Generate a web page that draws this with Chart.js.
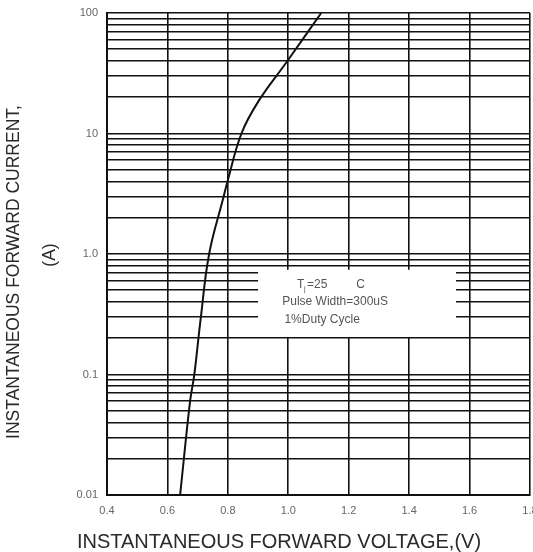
<!DOCTYPE html>
<html>
<head>
<meta charset="utf-8">
<script src="https://cdn.jsdelivr.net/npm/chart.js@4"></script>
<style>
    html, body { margin: 0; padding: 0; background: #fff; }
    #graphique { display: block; }
</style>
</head>
<body>
<canvas id="graphique" width="533" height="552"></canvas>
<script>
// Courbe : tension directe (V) et courant (A)
const tensions = [0.642, 0.675, 0.689, 0.71, 0.738, 0.783, 0.80, 0.845, 0.90, 0.994, 1.109]
const courants = [0.01, 0.06, 0.1, 0.29, 1.0, 2.8, 4.1, 10, 18.3, 39, 100]

const xTicks = [0.4, 0.6, 0.8, 1.0, 1.2, 1.4, 1.6, 1.8]
const xTickLabels = ["0.4", "0.6", "0.8", "1.0", "1.2", "1.4", "1.6", "1.8"]
const decades = [0.01, 0.1, 1, 10, 100]
const yTickLabels = ["0.01", "0.1", "1.0", "10", "100"]

const legendeLignes = ["Pulse Width=300uS", "1%Duty Cycle"]

const points = tensions.map((v, i) => ({ x: v, y: courants[i] }))

// cadre blanc de la légende, en valeurs d'axes
const legendeCadre = { x1: 0.9, x2: 1.555, y1: 0.74, y2: 0.205 }

const police = "'Liberation Sans', Arial, sans-serif"

const legendePlugin = {
    id: "legendeTexte",
    beforeDatasetsDraw(chart) {
        const ctx = chart.ctx
        const x = chart.scales.x
        const y = chart.scales.y
        const l = x.getPixelForValue(legendeCadre.x1)
        const r = x.getPixelForValue(legendeCadre.x2)
        const t = y.getPixelForValue(legendeCadre.y1)
        const b = y.getPixelForValue(legendeCadre.y2)
        ctx.save()
        ctx.fillStyle = "#fff"
        ctx.fillRect(l, t, r - l, b - t)

        ctx.fillStyle = "#555"
        ctx.textBaseline = "middle"
        ctx.font = "12px " + police
        // T avec indice j
        const tx = x.getPixelForValue(1.029)
        const ty = y.getPixelForValue(0.553)
        ctx.textAlign = "left"
        ctx.fillText("T", tx, ty)
        ctx.font = "7px " + police
        ctx.fillText("j", tx + 7, ty + 4)
        ctx.font = "12px " + police
        ctx.fillText("=25", tx + 10, ty)
        ctx.fillText("C", x.getPixelForValue(1.225), ty)

        ctx.textAlign = "center"
        ctx.fillText(legendeLignes[0], x.getPixelForValue(1.155), y.getPixelForValue(0.40))
        ctx.fillText(legendeLignes[1], x.getPixelForValue(1.112), y.getPixelForValue(0.283))
        ctx.restore()
    }
}

const titresPlugin = {
    id: "titresAxes",
    afterDraw(chart) {
        const ctx = chart.ctx
        ctx.save()
        ctx.fillStyle = "#2a2a2a"
        ctx.textAlign = "center"
        ctx.textBaseline = "middle"
        ctx.font = "20px " + police
        ctx.fillText("INSTANTANEOUS FORWARD VOLTAGE,(V)", 279, 542)

        ctx.font = "17.5px " + police
        ctx.translate(14, 272)
        ctx.rotate(-Math.PI / 2)
        ctx.fillText("INSTANTANEOUS FORWARD CURRENT,", 0, 0)
        ctx.restore()

        ctx.save()
        ctx.fillStyle = "#2a2a2a"
        ctx.textAlign = "center"
        ctx.textBaseline = "middle"
        ctx.font = "17.5px " + police
        ctx.translate(50, 255)
        ctx.rotate(-Math.PI / 2)
        ctx.fillText("(A)", 0, 0)
        ctx.restore()
    }
}

const config = {
    type: "scatter",
    data: {
        datasets: [{
            label: "IF",
            data: points,
            showLine: true,
            borderColor: "#111",
            borderWidth: 2,
            pointRadius: 0,
            tension: 0.4,
        }]
    },
    options: {
        responsive: false,
        animation: false,
        layout: { padding: { top: 13, right: 3, left: 0, bottom: 0 } },
        plugins: {
            legend: { display: false },
            tooltip: { enabled: false },
        },
        scales: {
            x: {
                type: "linear",
                min: 0.4,
                max: 1.8,
                afterBuildTicks: (scale) => {
                    scale.ticks = xTicks.map(v => ({ value: v }))
                },
                afterFit: (scale) => {
                    scale.height = 57
                    scale.paddingLeft = 0
                    scale.paddingRight = 0
                },
                grid: { color: "#111", lineWidth: 1.6, drawTicks: false },
                border: { color: "#111", width: 2 },
                ticks: {
                    padding: 9,
                    color: "#666",
                    font: { size: 11, family: police },
                    callback: (v, i) => xTickLabels[i],
                },
            },
            y: {
                type: "logarithmic",
                min: 0.01,
                max: 100,
                afterBuildTicks: (scale) => {
                    const ticks = []
                    decades.forEach((d, i) => {
                        if (i === decades.length - 1) {
                            ticks.push({ value: d })
                            return
                        }
                        for (let k = 1; k < 10; k++) ticks.push({ value: d * k })
                    })
                    scale.ticks = ticks
                },
                afterFit: (scale) => {
                    scale.width = 107
                    scale.paddingTop = 0
                    scale.paddingBottom = 0
                },
                grid: { color: "#111", lineWidth: 1.6, drawTicks: false },
                border: { color: "#111", width: 2 },
                ticks: {
                    autoSkip: false,
                    padding: 9,
                    color: "#666",
                    font: { size: 11, family: police },
                    callback: (v) => {
                        const i = decades.findIndex(d => Math.abs(d - v) < d * 1e-6)
                        return i >= 0 ? yTickLabels[i] : ""
                    },
                },
            },
        },
    },
    plugins: [legendePlugin, titresPlugin],
}

const graphique = new Chart(document.querySelector("#graphique"), config)
</script>
</body>
</html>
